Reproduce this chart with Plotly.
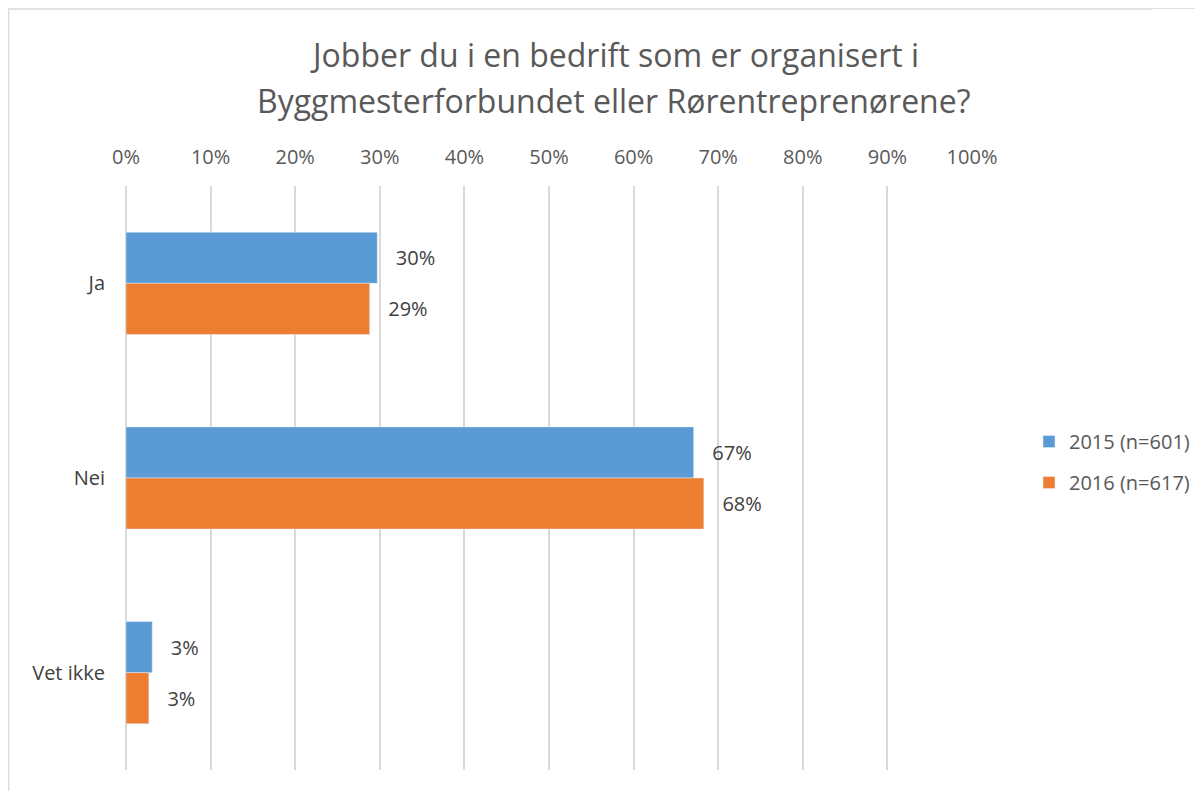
import plotly.graph_objects as go

categories = ["Ja", "Nei", "Vet ikke"]
series_names = ["2015 (n=601)", "2016 (n=617)"]
values_2015 = [0.297, 0.671, 0.031]
values_2016 = [0.288, 0.683, 0.027]
colors = ["#5B9BD5", "#ED7D31"]
x_ticks = [i / 10 for i in range(11)]
title_lines = ["Jobber du i en bedrift som er organisert i",
               "Byggmesterforbundet eller Rørentreprenørene?"]

# page is shown with an 8px body margin, so work in shifted pixel coordinates
OFF = 8
W, H = 1203 - OFF, 791 - OFF
L, R, T, B = 126 - OFF, 1203 - 972, 186 - OFF, 21
pw, ph = W - L - R, H - T - B

def px_x(p):
    return (p - OFF - L) / pw

def px_y(p):
    return (H - B - (p - OFF)) / ph

FONT = "Open Sans"
SZ = 20
fig = go.Figure()
for i, (name, vals) in enumerate(zip(series_names, [values_2015, values_2016])):
    fig.add_trace(go.Bar(
        y=categories, x=vals, orientation="h", name=name,
        marker=dict(color=colors[i]),
        texttemplate="\u00a0\u00a0\u00a0%{x:.0%}", textposition="outside",
        textfont=dict(size=SZ, color="#404040", family=FONT),
        cliponaxis=False, legendgroup=f"g{i}",
    ))

annotations = []
for line, yc in zip(title_lines, [54, 101]):
    annotations.append(dict(
        text=line, showarrow=False, xref="paper", yref="paper",
        x=px_x(614), y=px_y(yc), xanchor="center", yanchor="middle",
        font=dict(size=32, color="#595959", family=FONT),
    ))

fig.update_layout(
    width=W, height=H,
    margin=dict(l=L, r=R, t=T, b=B),
    paper_bgcolor="white", plot_bgcolor="white",
    barmode="group", bargap=0.475, bargroupgap=0,
    font=dict(family=FONT, color="#595959"),
    annotations=annotations,
    xaxis=dict(
        side="top", range=[0, 1], tickvals=x_ticks, tickformat=".0%",
        showgrid=True, gridcolor="#D9D9D9", gridwidth=1.5,
        zeroline=True, zerolinecolor="#D9D9D9", zerolinewidth=1.5,
        showline=False, ticks="", ticklabelstandoff=17,
        tickfont=dict(size=SZ, color="#595959"),
    ),
    yaxis=dict(
        autorange="reversed", showgrid=False, zeroline=False, showline=False,
        ticks="", ticklabelstandoff=20,
        tickfont=dict(size=SZ, color="#404040"),
    ),
    legend=dict(
        xref="container", yref="container",
        x=(1029 - OFF) / W, y=1 - (422 - OFF) / H,
        xanchor="left", yanchor="top",
        traceorder="grouped", tracegroupgap=12,
        font=dict(size=SZ, color="#595959"),
        itemwidth=30,
    ),
    showlegend=True,
    shapes=[
        dict(type="line", xref="paper", yref="paper",
             x0=px_x(OFF), x1=px_x(1152), y0=px_y(9), y1=px_y(9),
             line=dict(color="#D9D9D9", width=1.5)),
        dict(type="line", xref="paper", yref="paper",
             x0=px_x(8.5), x1=px_x(8.5), y0=px_y(9), y1=px_y(791),
             line=dict(color="#D9D9D9", width=1.5)),
        dict(type="rect", xref="paper", yref="paper",
             x0=px_x(1152), x1=px_x(1203), y0=px_y(OFF), y1=px_y(9),
             fillcolor="#DCE1E3", line=dict(width=0)),
    ],
)

fig.write_html("out.html")
